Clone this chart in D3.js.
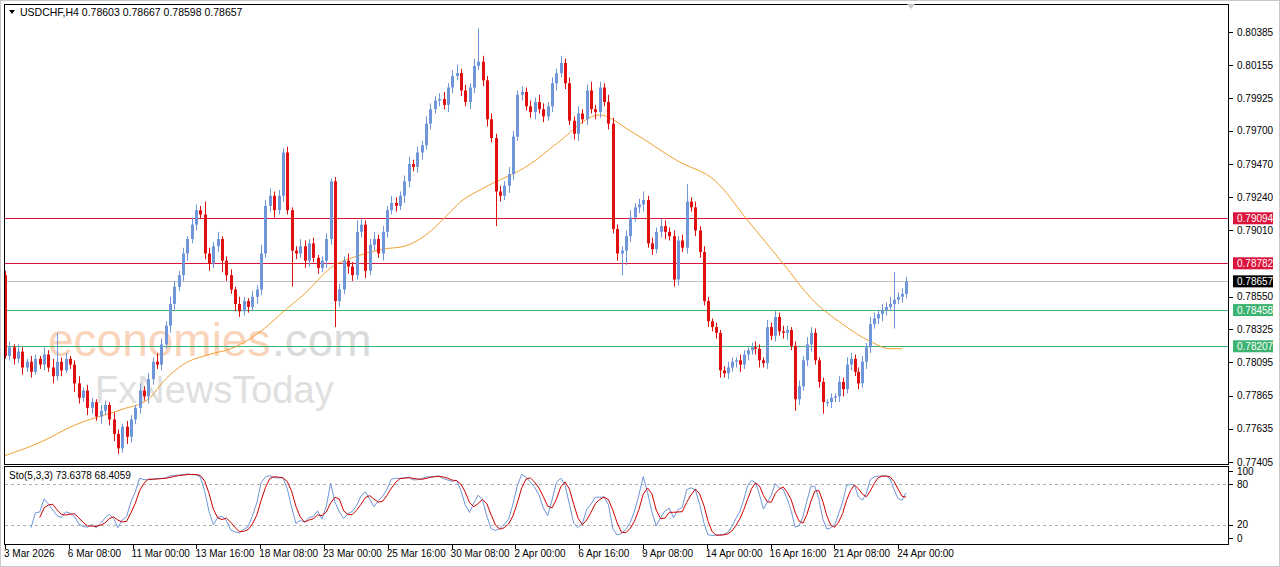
<!DOCTYPE html>
<html>
<head>
<meta charset="utf-8">
<script src="https://cdn.jsdelivr.net/npm/d3@7"></script>
<style>
  body { margin: 0; background: #fff; }
  text { font-family: "Liberation Sans", "DejaVu Sans", sans-serif; }
</style>
</head>
<body>
<div id="chart"></div>
<script>
// USDCHF H4
var firstOpen = 0.7870;
var closes = [
  .7814,.7820,.7812,.7817,.7806,.7810,.7803,.7812,.7808,.7815,.7806,.7800,.7810,.7804,.7812,.7808,.7795,.7785,.7790,.7778,
  .7782,.7772,.7776,.7780,.7770,.7760,.7750,.7765,.7758,.7770,.7778,.7790,.7786,.7798,.7810,.7808,.7822,.7835,.7850,.7862,
  .7870,.7885,.7895,.7905,.7915,.7912,.7885,.7878,.7890,.7895,.7880,.7870,.7860,.7850,.7845,.7852,.7848,.7855,.7860,.7885,
  .7918,.7925,.7915,.7925,.7955,.7915,.7887,.7885,.7890,.7880,.7892,.7882,.7875,.7880,.7895,.7935,.7852,.7860,.7880,.7876,
  .7870,.7900,.7905,.7873,.7891,.7895,.7885,.7900,.7915,.7920,.7918,.7925,.7935,.7947,.7945,.7955,.7960,.7975,.7985,.7991,
  .7992,.7988,.8000,.8008,.8010,.7998,.7990,.8000,.8015,.8018,.8005,.7978,.7965,.7928,.7925,.7932,.7940,.7966,.7995,.7997,
  .7987,.7983,.7990,.7985,.7980,.7987,.8003,.8010,.8017,.8003,.7977,.7968,.7982,.7978,.7998,.7985,.7983,.8000,.7990,.7975,
  .7902,.7885,.7887,.7897,.7910,.7917,.7919,.7922,.7892,.7888,.7900,.7904,.7900,.7897,.7867,.7894,.7889,.7921,.7917,.7901,
  .7886,.7852,.7838,.7834,.7830,.7804,.7802,.7806,.7810,.7811,.7808,.7815,.7818,.7820,.7819,.7811,.7809,.7834,.7828,.7841,
  .7831,.7830,.7832,.7821,.7784,.7793,.7811,.7822,.7830,.7811,.7796,.7782,.7782,.7785,.7786,.7796,.7791,.7808,.7812,.7803,
  .7795,.7810,.7820,.7836,.7840,.7843,.7846,.7848,.7850,.7853,.7855,.7857,.78657
];
// wick lengths above / below the body, in pips (0.0001)
var wickUp = [
  3,4,2,5,3,2,4,3,2,5,3,6,20,3,4,2,3,5,2,4,
  3,2,4,3,2,5,3,2,4,3,2,5,3,4,3,6,4,3,5,4,
  3,4,2,5,4,3,9,4,3,5,2,3,4,2,5,3,2,4,3,6,
  4,5,3,4,3,4,2,3,5,4,3,4,2,3,4,2,3,4,3,5,
  3,8,4,3,4,5,3,4,3,5,4,3,4,5,3,4,3,5,4,3,
  4,5,3,4,6,3,4,3,5,23,4,3,4,3,4,3,5,4,3,4,
  3,4,3,5,4,3,4,3,5,3,4,3,5,3,4,6,3,4,3,5,
  4,3,3,4,5,3,4,6,3,4,3,5,4,3,4,3,4,12,3,4,
  3,4,3,2,3,2,3,4,3,2,4,3,2,3,4,3,2,5,3,4,
  3,4,3,2,3,4,3,5,4,3,2,3,2,3,2,4,3,5,4,3,
  3,4,3,5,4,3,4,3,5,19,3,4,3
];
var wickDown = [
  2,3,4,3,5,3,4,2,3,4,3,5,3,4,2,3,6,4,3,5,
  4,3,5,3,4,5,4,3,5,4,3,4,3,5,4,3,4,3,5,4,
  3,4,5,3,4,3,4,5,3,4,8,4,3,5,4,3,4,3,5,4,
  3,4,5,3,4,3,25,4,3,5,4,3,4,3,5,4,18,4,3,5,
  4,3,4,5,3,4,3,5,4,3,4,3,5,4,3,4,5,3,4,3,
  4,3,5,4,3,4,3,5,4,3,4,5,3,24,4,3,5,4,3,4,
  3,4,5,3,4,3,4,5,3,4,3,4,5,3,4,3,5,4,3,4,
  3,5,15,10,4,3,4,5,3,4,3,4,5,3,5,4,3,4,3,4,
  4,3,4,3,4,5,3,4,3,4,5,3,4,3,4,5,3,4,3,4,
  3,4,5,3,8,4,3,4,5,3,4,8,3,4,3,4,5,3,4,3,
  4,3,5,4,3,4,5,4,3,17,3,4,3
];
// moving average read at some candles
var maIndex = [0,8,16,27,33,37,41,47,52,58,65,69,75,82,87,92,97,102,105,110,121,127,137,144,155,164,172,181,188,196,203,208,211];
var maValues = [.7745,.7754,.7766,.7777,.7784,.7798,.7808,.7815,.7819,.7829,.7847,.7857,.7875,.7884,.7888,.7890,.7898,.7912,.7921,.7930,.7947,.7961,.7981,.7970,.7949,.7935,.7908,.7878,.7854,.7836,.7824,.7819,.7819];

var priceTicks = [0.80385,0.80155,0.79925,0.79700,0.79470,0.79240,0.79010,0.78550,0.78325,0.78095,0.77865,0.77635,0.77405];
var levels = [
  {v: 0.79094, c: "#dc143c"},
  {v: 0.78782, c: "#dc143c"},
  {v: 0.78657, c: "#000000", line: "#c0c0c0"},
  {v: 0.78458, c: "#3cb371"},
  {v: 0.78207, c: "#3cb371"}
];
var dateLabels = ["3 Mar 2026","6 Mar 08:00","11 Mar 00:00","13 Mar 16:00","18 Mar 08:00","23 Mar 00:00","25 Mar 16:00",
  "30 Mar 08:00","2 Apr 00:00","6 Apr 16:00","9 Apr 08:00","14 Apr 00:00","16 Apr 16:00","21 Apr 08:00","24 Apr 00:00"];
var stoLevels = [100, 80, 20, 0];

// build candles
var candles = closes.map(function (c, i) {
  var o = i === 0 ? firstOpen : closes[i - 1];
  var up = (wickUp[i] || 3) / 10000, dn = (wickDown[i] || 3) / 10000;
  return {i: i, o: o, c: c, h: Math.max(o, c) + up, l: Math.min(o, c) - dn};
});

// stochastic 5,3,3 from the candles
var K = [], D = [];
candles.forEach(function (d, i) {
  if (i < 6) { K.push(null); return; }
  var num = 0, den = 0;
  for (var j = i - 2; j <= i; j++) {
    var win = candles.slice(j - 4, j + 1);
    var ll = d3.min(win, e => e.l), hh = d3.max(win, e => e.h);
    num += candles[j].c - ll; den += hh - ll;
  }
  K.push(den ? num / den * 100 : 50);
});
K.forEach(function (k, i) {
  if (i < 8) { D.push(null); return; }
  D.push((K[i] + K[i - 1] + K[i - 2]) / 3);
});

var W = 1280, H = 567;
var svg = d3.select("#chart").append("svg").attr("width", W).attr("height", H);
svg.append("rect").attr("x", 0.5).attr("y", 0.5).attr("width", W - 1).attr("height", H - 1)
  .attr("fill", "#fff").attr("stroke", "#c8c8c8");

var x = d3.scaleLinear().domain([0, 161, closes.length - 1]).range([5, 704, 906]);
var y = d3.scaleLinear().domain([0.77405, 0.80385]).range([462, 32]);
var ys = d3.scaleLinear().domain([0, 100]).range([538, 471]);

// watermark
var wm = svg.append("g");
wm.append("text").attr("x", 48).attr("y", 356).attr("font-size", 46).attr("fill", "#f5a06a").attr("opacity", 0.45)
  .text("economies");
wm.append("text").attr("x", 272).attr("y", 356).attr("font-size", 46).attr("fill", "#999").attr("opacity", 0.35)
  .text(".com");
wm.append("text").attr("x", 95).attr("y", 403).attr("font-size", 38).attr("fill", "#999").attr("opacity", 0.3)
  .text("FxNewsToday");

// level lines
svg.append("g").selectAll("line").data(levels).enter().append("line")
  .attr("x1", 5).attr("x2", 1229)
  .attr("y1", d => Math.round(y(d.v)) + 0.5).attr("y2", d => Math.round(y(d.v)) + 0.5)
  .attr("stroke", d => d.line || d.c).attr("stroke-width", 1);

// moving average
svg.append("path")
  .datum(maIndex.map((k, n) => [k, maValues[n]]))
  .attr("fill", "none").attr("stroke", "#f0a030").attr("stroke-width", 1)
  .attr("d", d3.line().x(d => x(d[0])).y(d => y(d[1])).curve(d3.curveMonotoneX));

// candles
var cg = svg.append("g");
cg.selectAll("line").data(candles).enter().append("line")
  .attr("x1", d => Math.round(x(d.i)) + 0.5).attr("x2", d => Math.round(x(d.i)) + 0.5)
  .attr("y1", d => y(d.h)).attr("y2", d => y(d.l))
  .attr("stroke", d => d.c >= d.o ? "#6f96d8" : "#e01010");
cg.selectAll("rect").data(candles).enter().append("rect")
  .attr("x", d => Math.round(x(d.i)) - 1).attr("width", 3)
  .attr("y", d => y(Math.max(d.o, d.c)))
  .attr("height", d => Math.max(1, Math.abs(y(d.o) - y(d.c))))
  .attr("fill", d => d.c >= d.o ? "#6f96d8" : "#e01010");

// panel frames
svg.append("rect").attr("x", 4.5).attr("y", 4.5).attr("width", 1224).attr("height", 460)
  .attr("fill", "none").attr("stroke", "#000");
svg.append("rect").attr("x", 4.5).attr("y", 466.5).attr("width", 1224).attr("height", 78)
  .attr("fill", "none").attr("stroke", "#000");
svg.append("path").attr("d", "M907,4 L915,4 L911,9 Z").attr("fill", "#c8c8c8");

// header
svg.append("path").attr("d", "M9,10 L15,10 L12,14 Z").attr("fill", "#000");
svg.append("text").attr("x", 20).attr("y", 16).attr("font-size", 10.5).text("USDCHF,H4  0.78603 0.78667 0.78598 0.78657");

// price axis
var pa = svg.append("g");
pa.selectAll("line").data(priceTicks).enter().append("line")
  .attr("x1", 1229).attr("x2", 1233).attr("y1", d => Math.round(y(d)) + 0.5).attr("y2", d => Math.round(y(d)) + 0.5)
  .attr("stroke", "#000");
pa.selectAll("text").data(priceTicks).enter().append("text")
  .attr("x", 1237).attr("y", d => y(d) + 3.5).attr("font-size", 10).text(d => d.toFixed(5));

var lv = svg.append("g").selectAll("g").data(levels).enter().append("g");
lv.append("rect").attr("x", 1233).attr("y", d => y(d.v) - 6).attr("width", 40).attr("height", 12).attr("fill", d => d.c);
lv.append("text").attr("x", 1237).attr("y", d => y(d.v) + 4).attr("font-size", 10).attr("fill", "#fff")
  .text(d => d.v.toFixed(5));

// stochastic panel
svg.append("g").selectAll("line").data([80, 20]).enter().append("line")
  .attr("x1", 5).attr("x2", 1229).attr("y1", d => Math.round(ys(d)) + 0.5).attr("y2", d => Math.round(ys(d)) + 0.5)
  .attr("stroke", "#b0b0b0").attr("stroke-dasharray", "3,3");
var stoLine = d3.line().defined(d => d[1] != null).x(d => x(d[0])).y(d => ys(d[1]));
svg.append("path").datum(K.map((k, i) => [i, k])).attr("fill", "none").attr("stroke", "#6f96d8").attr("d", stoLine);
svg.append("path").datum(D.map((k, i) => [i, k])).attr("fill", "none").attr("stroke", "#d00000").attr("d", stoLine);
svg.append("text").attr("x", 9).attr("y", 479).attr("font-size", 10).text("Sto(5,3,3) 73.6378 68.4059");
svg.append("g").selectAll("text").data(stoLevels).enter().append("text")
  .attr("x", 1237).attr("y", d => ys(d) + 3.5).attr("font-size", 10).text(d => d);
svg.append("g").selectAll("line").data(stoLevels).enter().append("line")
  .attr("x1", 1229).attr("x2", 1233).attr("y1", d => Math.round(ys(d)) + 0.5).attr("y2", d => Math.round(ys(d)) + 0.5)
  .attr("stroke", "#000");

// time axis: one label every 64 px, like the terminal
var ta = svg.append("g").selectAll("g").data(dateLabels).enter().append("g");
ta.append("line").attr("x1", (d, k) => 5.5 + Math.round(k * 63.8)).attr("x2", (d, k) => 5.5 + Math.round(k * 63.8))
  .attr("y1", 545).attr("y2", 549).attr("stroke", "#000");
ta.append("text").attr("x", (d, k) => 4 + k * 63.8).attr("y", 557).attr("font-size", 10).text(d => d);
</script>
</body>
</html>
